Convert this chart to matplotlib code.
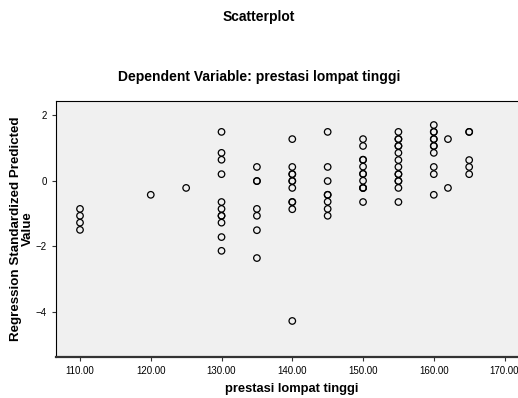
import matplotlib.pyplot as plt

plt.rcParams['font.family'] = ['Liberation Sans', 'DejaVu Sans']

# observed values (x) and standardized predicted values (y), one list per x group
x_vals = [110, 120, 125, 130, 135, 140, 145, 150, 155, 160, 162, 165]
y_groups = [
    [-0.86, -1.07, -1.28, -1.50],
    [-0.43],
    [-0.22],
    [1.49, 0.85, 0.64, 0.20, -0.65, -0.86, -1.07, -1.07, -1.28, -1.72, -2.14],
    [0.42, -0.01, -0.01, -0.86, -1.07, -1.51, -2.36],
    [1.27, 0.42, 0.20, 0.20, -0.01, -0.01, -0.22, -0.65, -0.65, -0.87, -4.28],
    [1.49, 0.42, -0.01, -0.43, -0.43, -0.64, -0.86, -1.07],
    [1.27, 1.06, 0.64, 0.64, 0.43, 0.21, 0.21, 0.0, -0.22, -0.22, -0.22, -0.65],
    [1.49, 1.27, 1.27, 1.06, 1.06, 0.85, 0.63, 0.42, 0.20, 0.20, -0.01, -0.01, -0.22, -0.65],
    [1.70, 1.49, 1.49, 1.27, 1.27, 1.06, 1.06, 0.85, 0.42, 0.20, -0.43],
    [1.27, -0.22],
    [1.49, 1.49, 0.63, 0.42, 0.20],
]

xs = []
ys = []
for x, grp in zip(x_vals, y_groups):
    for y in grp:
        xs.append(x)
        ys.append(y)

fig = plt.figure(figsize=(5.18, 3.98), dpi=100)
ax = fig.add_axes([0.108, 0.103, 0.892, 0.643])
ax.set_facecolor('#f0f0f0')

ax.scatter(xs, ys, s=22, facecolors='none', edgecolors='black', linewidths=0.9)

ax.set_xlim(106.6, 171.9)
ax.set_ylim(-5.38, 2.43)
ax.set_xticks([110, 120, 130, 140, 150, 160, 170])
ax.set_xticklabels(['%.2f' % t for t in [110, 120, 130, 140, 150, 160, 170]])
ax.set_yticks([2, 0, -2, -4])
ax.tick_params(labelsize=7, length=3, width=0.8, colors='#333333', labelcolor='black')

for side in ['left', 'top']:
    ax.spines[side].set_color('black')
    ax.spines[side].set_linewidth(0.8)
ax.spines['bottom'].set_color('#333333')
ax.spines['bottom'].set_linewidth(1.6)
ax.spines['right'].set_visible(False)

ax.set_xlabel('prestasi lompat tinggi', fontsize=9.3, fontweight='bold')
ax.xaxis.set_label_coords(0.51, -0.102)
ax.set_ylabel('Regression Standardized Predicted\nValue', fontsize=9.6, fontweight='bold',
              linespacing=1.0)
ax.yaxis.set_label_coords(-0.048, 0.5)

fig.text(0.5, 0.957, 'Scatterplot', ha='center', va='center', fontsize=10, fontweight='bold')
fig.text(0.5, 0.806, 'Dependent Variable: prestasi lompat tinggi', ha='center', va='center',
         fontsize=10, fontweight='bold')

fig.savefig('out.png', dpi=100)
